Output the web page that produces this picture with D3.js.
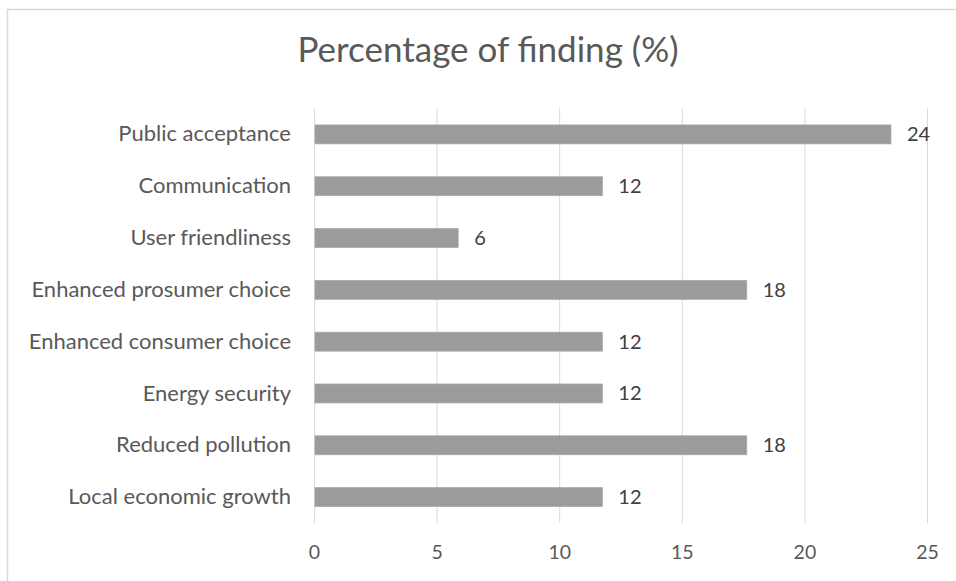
<!DOCTYPE html>
<html>
<head>
<meta charset="utf-8">
<script src="https://cdn.jsdelivr.net/npm/d3@7"></script>
<style>
  html, body { margin: 0; padding: 0; background: #ffffff; }
  svg { display: block; }
  text { font-family: "Lato", "Open Sans", sans-serif; }
</style>
</head>
<body>
<svg id="chart" width="956" height="581"></svg>
<script>
// Share of findings per theme (%), listed top to bottom
const categories = [
  "Public acceptance",
  "Communication",
  "User friendliness",
  "Enhanced prosumer choice",
  "Enhanced consumer choice",
  "Energy security",
  "Reduced pollution",
  "Local economic growth"
];
const percentages = [23.53, 11.76, 5.88, 17.65, 11.76, 11.76, 17.65, 11.76];
const xTicks = [0, 5, 10, 15, 20, 25];
const chartTitle = "Percentage of finding (%)";

const svg = d3.select("#chart");
const W = 956, H = 581;
const plot = { left: 314, right: 927, top: 108.5, bottom: 523 };
const textColor = "#595959";
const gridColor = "#d9d9d9";
const barColor = "#9b9b9b";

// Chart area frame
svg.append("rect")
  .attr("x", 7.5).attr("y", 9.5)
  .attr("width", W + 10).attr("height", H + 10)
  .attr("fill", "#ffffff")
  .attr("stroke", gridColor).attr("stroke-width", 1.5);

const x = d3.scaleLinear().domain([0, 25]).range([plot.left, plot.right]);
const y = d3.scaleBand().domain(categories)
  .range([plot.top, plot.bottom])
  .paddingInner(0.634).paddingOuter(0.317);

// Vertical gridlines
svg.append("g").selectAll("line").data(xTicks).join("line")
  .attr("x1", d => x(d) + 0.5).attr("x2", d => x(d) + 0.5)
  .attr("y1", plot.top).attr("y2", plot.bottom)
  .attr("stroke", gridColor).attr("stroke-width", 1);

// Bottom axis tick labels
const xAxis = d3.axisBottom(x).tickValues(xTicks).tickSize(0).tickPadding(0);
const gx = svg.append("g").attr("transform", `translate(0,${plot.bottom + 36})`).call(xAxis);
gx.select(".domain").remove();
gx.selectAll("text")
  .attr("fill", textColor).attr("font-size", 19.5)
  .attr("dy", 0).attr("y", 0)
  .style("font-family", "Lato, 'Open Sans', sans-serif");

// Category labels
const yAxis = d3.axisLeft(y).tickSize(0).tickPadding(0);
const gy = svg.append("g").attr("transform", `translate(${plot.left - 23},0)`).call(yAxis);
gy.select(".domain").remove();
gy.selectAll("text")
  .attr("fill", textColor).attr("font-size", 22)
  .style("font-family", "Lato, 'Open Sans', sans-serif");

// Bars
svg.append("g").selectAll("rect").data(categories).join("rect")
  .attr("x", x(0) + 1)
  .attr("y", d => y(d))
  .attr("width", (d, i) => x(percentages[i]) - x(0) - 1)
  .attr("height", y.bandwidth())
  .attr("fill", barColor)
  .attr("stroke", "#a8a8a8").attr("stroke-width", 0.75);

// Value labels
const fmt = d3.format(".0f");
svg.append("g").selectAll("text").data(categories).join("text")
  .attr("x", (d, i) => x(percentages[i]) + 16)
  .attr("y", d => y(d) + y.bandwidth() / 2)
  .attr("dy", "0.35em")
  .attr("fill", "#404040").attr("font-size", 20)
  .text((d, i) => fmt(percentages[i]));

// Title
svg.append("text")
  .attr("x", 488).attr("y", 62)
  .attr("text-anchor", "middle")
  .attr("fill", textColor).attr("font-size", 35)
  .text(chartTitle);
</script>
</body>
</html>
